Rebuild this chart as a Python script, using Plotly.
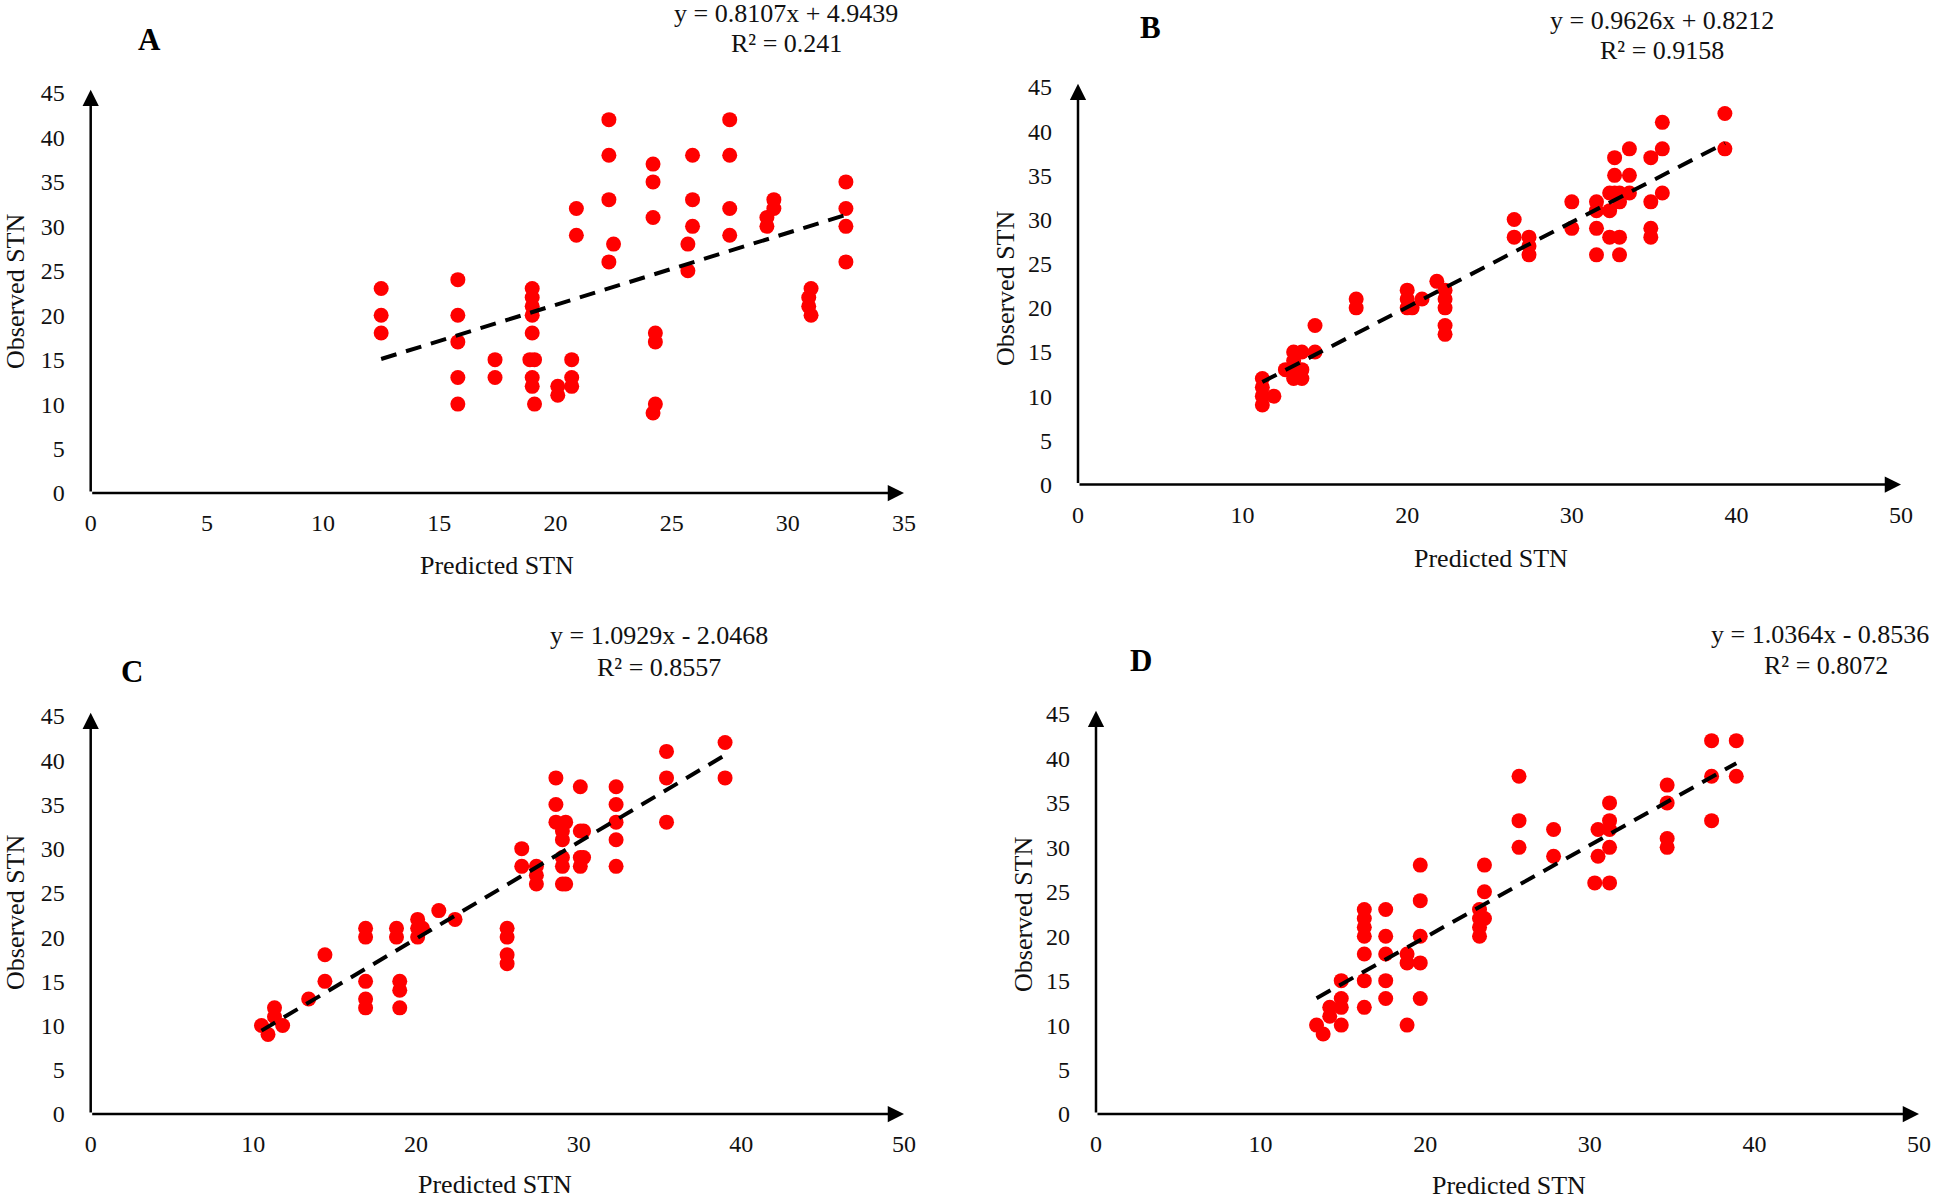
import plotly.graph_objects as go

# ---------------- data ----------------
panel_letters = ["A", "B", "C", "D"]
x_max = [35, 50, 50, 50]
x_tick_step = [5, 10, 10, 10]
y_ticks = [0, 5, 10, 15, 20, 25, 30, 35, 40, 45]

a_pred = [12.5, 12.5, 12.5, 15.8, 15.8, 15.8, 15.8, 15.8, 17.4, 17.4,
          19.0, 19.0, 19.0, 19.0, 19.0, 18.9, 19.1, 19.0, 19.0, 19.1,
          20.1, 20.1, 20.7, 20.7, 20.7, 20.9, 20.9, 22.3, 22.3, 22.3, 22.3,
          22.5, 24.2, 24.2, 24.2, 24.3, 24.3, 24.3, 24.2, 25.7, 25.7,
          25.9, 25.9, 25.9, 27.5, 27.5, 27.5, 27.5, 29.4, 29.4, 29.1, 29.1,
          31.0, 30.9, 30.9, 31.0, 32.5, 32.5, 32.5, 32.5]
a_obs = [23, 20, 18, 24, 20, 17, 13, 10, 15, 13,
         23, 22, 21, 20, 18, 15, 15, 13, 12, 10,
         12, 11, 15, 13, 12, 32, 29, 42, 38, 33, 26,
         28, 37, 35, 31, 18, 17, 10, 9, 28, 25,
         38, 33, 30, 42, 38, 32, 29, 33, 32, 31, 30,
         23, 22, 21, 20, 35, 32, 30, 26]

b_pred = [11.2, 11.2, 11.2, 11.2, 11.9, 12.6, 13.1, 13.1, 13.1, 13.1,
          13.6, 13.6, 13.6, 14.4, 14.4, 16.9, 16.9, 20.0, 20.0, 20.0,
          20.3, 20.9, 21.8, 22.3, 22.3, 22.3, 22.3, 22.3, 26.5, 26.5,
          27.4, 27.4, 27.4, 30.0, 30.0, 31.5, 31.5, 31.5, 31.5, 32.3, 32.3, 32.3,
          32.6, 32.6, 32.6, 32.9, 32.9, 32.9, 32.9, 33.5, 33.5, 33.5,
          34.8, 34.8, 34.8, 34.8, 35.5, 35.5, 35.5, 39.3, 39.3]
b_obs = [12, 11, 10, 9, 10, 13, 15, 14, 13, 12,
         15, 13, 12, 18, 15, 21, 20, 22, 21, 20,
         20, 21, 23, 22, 21, 20, 18, 17, 30, 28,
         28, 27, 26, 32, 29, 32, 31, 29, 26, 31, 33, 28,
         37, 35, 33, 33, 32, 28, 26, 38, 35, 33,
         37, 32, 29, 28, 41, 38, 33, 42, 38]

c_pred = [10.5, 10.9, 11.3, 11.3, 11.8, 13.4, 14.4, 14.4,
          16.9, 16.9, 16.9, 16.9, 16.9, 18.8, 18.8, 19.0, 19.0, 19.0,
          20.1, 20.1, 20.1, 20.4, 21.4, 22.4, 25.6, 25.6, 25.6, 25.6,
          26.5, 26.5, 27.4, 27.4, 27.4, 28.6, 28.6, 28.6,
          29.0, 29.0, 29.0, 29.0, 29.0, 29.2, 29.2, 30.1, 30.1, 30.1, 30.1,
          30.3, 30.3, 32.3, 32.3, 32.3, 32.3, 32.3, 35.4, 35.4, 35.4, 39.0, 39.0]
c_obs = [10, 9, 12, 11, 10, 13, 18, 15,
         21, 20, 15, 13, 12, 21, 20, 15, 14, 12,
         22, 21, 20, 21, 23, 22, 21, 20, 18, 17,
         30, 28, 28, 27, 26, 38, 35, 33,
         32, 31, 29, 28, 26, 33, 26, 37, 32, 29, 28,
         32, 29, 37, 35, 33, 31, 28, 41, 38, 33, 42, 38]

d_pred = [13.4, 13.8, 14.2, 14.2, 14.9, 14.9, 14.9, 14.9,
          16.3, 16.3, 16.3, 16.3, 16.3, 16.3, 16.3,
          17.6, 17.6, 17.6, 17.6, 17.6, 18.9, 18.9, 18.9,
          19.7, 19.7, 19.7, 19.7, 19.7, 23.3, 23.3, 23.3, 23.3,
          23.6, 23.6, 23.6, 25.7, 25.7, 25.7, 27.8, 27.8,
          30.3, 30.5, 30.5, 31.2, 31.2, 31.2, 31.2, 31.2,
          34.7, 34.7, 34.7, 34.7, 37.4, 37.4, 37.4, 38.9, 38.9]
d_obs = [10, 9, 12, 11, 15, 13, 12, 10,
         23, 22, 21, 20, 18, 15, 12,
         23, 20, 18, 15, 13, 18, 17, 10,
         28, 24, 20, 17, 13, 23, 22, 21, 20,
         28, 25, 22, 38, 33, 30, 32, 29,
         26, 32, 29, 35, 33, 32, 30, 26,
         37, 35, 31, 30, 42, 38, 33, 42, 38]

slopes = [0.8107, 0.9626, 1.0929, 1.0364]
intercepts = [4.9439, 0.8212, -2.0468, -0.8536]
eq_texts = ["y = 0.8107x + 4.9439", "y = 0.9626x + 0.8212",
            "y = 1.0929x - 2.0468", "y = 1.0364x - 0.8536"]
r2_texts = ["R² = 0.241", "R² = 0.9158", "R² = 0.8557", "R² = 0.8072"]
x_title = "Predicted STN"
y_title = "Observed STN"

preds = [a_pred, b_pred, c_pred, d_pred]
obss = [a_obs, b_obs, c_obs, d_obs]

# ---------------- layout (pixel geometry) ----------------
W, H = 1948, 1200
# plot-area pixel boxes: (left, right, bottom, top)
boxes = [(90.7, 904, 493, 93), (1078, 1901, 484.5, 87),
         (90.7, 904, 1114, 716), (1096, 1919, 1114, 714)]
letter_pos = [(149, 40), (1150, 28), (132, 671), (1141, 660)]
eq_pos = [(786, 13), (1662, 20), (659, 635), (1820, 634)]
r2_pos = [(786, 44), (1662, 51), (659, 667), (1826, 665)]
xt_pos = [(497, 565), (1491, 558), (495, 1184), (1509, 1185)]
yt_pos = [(15, 292), (1005, 289), (15, 913), (1023, 914)]

FONT = "Liberation Serif, Times New Roman, serif"
px = lambda v: v / W
py = lambda v: 1 - v / H

fig = go.Figure()
annotations = []
layout = dict(width=W, height=H, autosize=False,
              margin=dict(l=0, r=0, t=0, b=0, pad=0, autoexpand=False),
              plot_bgcolor="white", paper_bgcolor="white", showlegend=False,
              font=dict(family=FONT, color="black"))

for i in range(4):
    n = "" if i == 0 else str(i + 1)
    xa, ya = "x" + n, "y" + n
    l, r, b, t = boxes[i]
    xm = x_max[i]
    ticks_x = list(range(0, xm + 1, x_tick_step[i]))
    layout["xaxis" + n] = dict(domain=[px(l), px(r)], range=[0, xm], anchor=ya,
                               showgrid=False, zeroline=False, showline=False,
                               ticks="", tickvals=ticks_x, ticklabelstandoff=13,
                               automargin=False,
                               tickfont=dict(family=FONT, size=24, color="#111111"))
    layout["yaxis" + n] = dict(domain=[py(b), py(t)], range=[0, 45], anchor=xa,
                               showgrid=False, zeroline=False, showline=False,
                               ticks="", tickvals=y_ticks, ticklabelstandoff=25,
                               automargin=False,
                               tickfont=dict(family=FONT, size=24, color="#111111"))
    xs = preds[i]
    lo, hi = min(xs), max(xs)
    fig.add_trace(go.Scatter(x=xs, y=obss[i], mode="markers", xaxis=xa, yaxis=ya,
                             marker=dict(color="#ff0000", size=15, line=dict(width=0))))
    fig.add_trace(go.Scatter(x=[lo, hi],
                             y=[slopes[i] * lo + intercepts[i], slopes[i] * hi + intercepts[i]],
                             mode="lines", xaxis=xa, yaxis=ya,
                             line=dict(color="black", width=4, dash="16px,10px")))
    # axis arrows
    arrow = dict(text="", showarrow=True, arrowhead=2, arrowsize=1.3, arrowwidth=2.5,
                 arrowcolor="black", xref=xa, yref=ya, axref=xa, ayref=ya)
    annotations.append(dict(arrow, x=xm, y=0, ax=0, ay=0))
    annotations.append(dict(arrow, x=0, y=45 * 1.008, ax=0, ay=0))
    # texts
    annotations.append(dict(text="<b>" + panel_letters[i] + "</b>", showarrow=False,
                            xref="paper", yref="paper", x=px(letter_pos[i][0]),
                            y=py(letter_pos[i][1]), xanchor="center", yanchor="middle",
                            font=dict(family=FONT, size=31, color="black")))
    annotations.append(dict(text=eq_texts[i], showarrow=False, xref="paper", yref="paper",
                            x=px(eq_pos[i][0]), y=py(eq_pos[i][1]),
                            xanchor="center", yanchor="middle",
                            font=dict(family=FONT, size=26, color="#111111")))
    annotations.append(dict(text=r2_texts[i], showarrow=False, xref="paper", yref="paper",
                            x=px(r2_pos[i][0]), y=py(r2_pos[i][1]),
                            xanchor="center", yanchor="middle",
                            font=dict(family=FONT, size=26, color="#111111")))
    annotations.append(dict(text=x_title, showarrow=False, xref="paper", yref="paper",
                            x=px(xt_pos[i][0]), y=py(xt_pos[i][1]),
                            xanchor="center", yanchor="middle",
                            font=dict(family=FONT, size=26, color="#111111")))
    annotations.append(dict(text=y_title, showarrow=False, xref="paper", yref="paper",
                            x=px(yt_pos[i][0]), y=py(yt_pos[i][1]), textangle=-90,
                            xanchor="center", yanchor="middle",
                            font=dict(family=FONT, size=26, color="#111111")))

layout["annotations"] = annotations
fig.update_layout(**layout)
fig.write_html("out.html", config={"displayModeBar": False, "responsive": False},
               post_script="document.body.style.margin='0';")
